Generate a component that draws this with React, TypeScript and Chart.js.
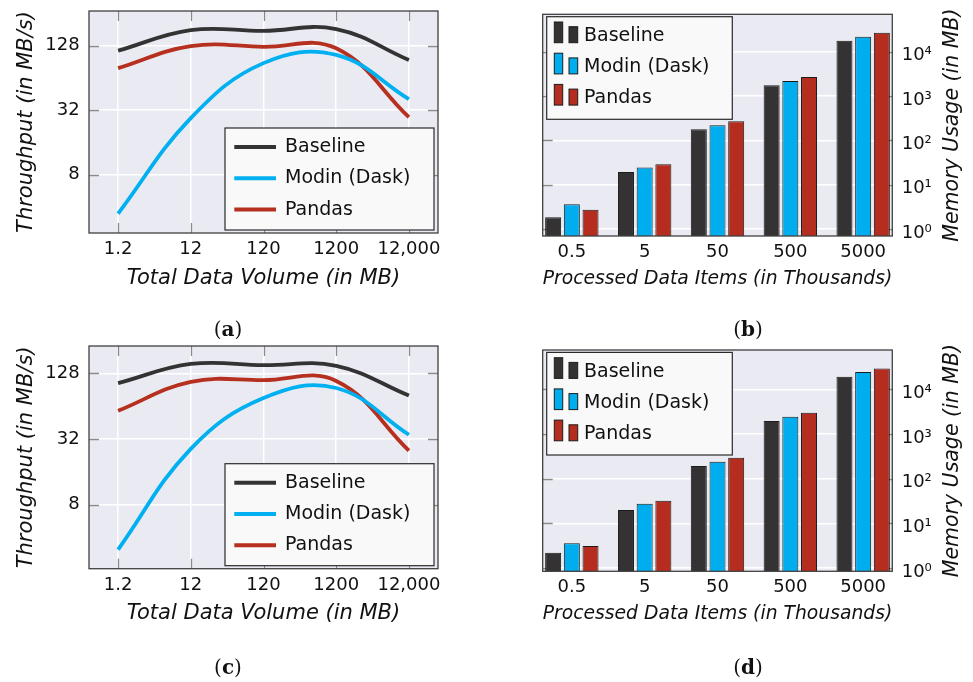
import React, { useEffect, useRef } from "react";
import { Chart, registerables } from "chart.js";

Chart.register(...registerables);
Chart.defaults.font.family = "'DejaVu Sans', sans-serif";
Chart.defaults.color = "#111";

// ---------- data ----------
const seriesNames = ["Baseline", "Modin (Dask)", "Pandas"];

const volumeValues = [1.2, 12, 120, 1200, 12000];
const volumeLabels = ["1.2", "12", "120", "1200", "12,000"];
const throughputTicks = [8, 32, 128];
const throughputTickLabels = ["8", "32", "128"];

const throughputA_baseline = [115, 179, 176, 183, 94];
const throughputA_modin = [3.46, 27, 88, 105, 40.5];
const throughputA_pandas = [79, 127, 125, 121, 27.5];

const throughputC_baseline = [104, 156, 152, 150, 80];
const throughputC_modin = [3.1, 26, 76, 94, 35];
const throughputC_pandas = [58, 107, 111, 109, 25];

const itemCategories = ["0.5", "5", "50", "500", "5000"];
const memoryTicks = [1, 10, 100, 1000, 10000];
const memoryTickLabels = ["10⁰", "10¹", "10²", "10³", "10⁴"];

const memoryB_baseline = [1.86, 19.5, 178, 1740, 17700];
const memoryB_modin = [3.66, 24.4, 219, 2180, 21800];
const memoryB_pandas = [2.72, 29.1, 270, 2690, 26800];

const memoryD_baseline = [2.2, 19.8, 192, 1950, 19000];
const memoryD_modin = [3.57, 27.5, 239, 2430, 24300];
const memoryD_pandas = [3.1, 32, 294, 2980, 29300];

// ---------- styles ----------
const lineColors = ["#333333", "#00b0f0", "#b5301f"];
const barColors = ["#343233", "#00aeef", "#b42d1e"];
const plotBg = "#eaeaf2";
const frameColor = "#404040";
const tickColor = "#8a8a8a";
const textColor = "#111";
const clear = "rgba(0,0,0,0)";

type FrameCfg = {
  xTicks: boolean;
  legend: "line" | "bar";
  rightTitle?: string;
};

function makeFramePlugin(cfg: FrameCfg) {
  return {
    id: "frame",
    beforeDraw(chart: any) {
      const { ctx, chartArea: a } = chart;
      ctx.save();
      ctx.fillStyle = plotBg;
      ctx.fillRect(a.left, a.top, a.right - a.left, a.bottom - a.top);
      ctx.restore();
    },
    beforeDatasetsDraw(chart: any) {
      const { ctx, chartArea: a } = chart;
      const L = 10;
      ctx.save();
      ctx.strokeStyle = tickColor;
      ctx.lineWidth = 1.3;
      ctx.beginPath();
      const ys = chart.scales.y;
      ys.ticks.forEach((t: any) => {
        const py = Math.round(ys.getPixelForValue(t.value)) + 0.5;
        ctx.moveTo(a.left, py);
        ctx.lineTo(a.left + L, py);
        ctx.moveTo(a.right - L, py);
        ctx.lineTo(a.right, py);
      });
      if (cfg.xTicks) {
        const xs = chart.scales.x;
        xs.ticks.forEach((t: any) => {
          const px = Math.round(xs.getPixelForValue(t.value)) + 0.5;
          ctx.moveTo(px, a.top);
          ctx.lineTo(px, a.top + L);
          ctx.moveTo(px, a.bottom - L);
          ctx.lineTo(px, a.bottom);
        });
      }
      ctx.stroke();
      ctx.restore();
    },
    afterDatasetsDraw(chart: any) {
      const { ctx, chartArea: a } = chart;
      ctx.save();
      ctx.strokeStyle = frameColor;
      ctx.lineWidth = 1.3;
      ctx.strokeRect(a.left, a.top, a.right - a.left, a.bottom - a.top);
      ctx.restore();
    },
    afterDraw(chart: any) {
      const { ctx, chartArea: a } = chart;
      const ds = chart.data.datasets;
      ctx.save();
      if (cfg.legend === "line") {
        const w = 209, h = 102;
        const lx = a.right - 4 - w;
        const ly = a.bottom - 3 - h;
        ctx.fillStyle = "#f9f9f9";
        ctx.fillRect(lx, ly, w, h);
        ctx.strokeStyle = "#2a2a2a";
        ctx.lineWidth = 1.2;
        ctx.strokeRect(lx, ly, w, h);
        ds.forEach((d: any, i: number) => {
          const ry = ly + 19 + i * 31.3;
          ctx.strokeStyle = d.borderColor;
          ctx.lineWidth = 4;
          ctx.beginPath();
          ctx.moveTo(lx + 9.3, ry);
          ctx.lineTo(lx + 51, ry);
          ctx.stroke();
          ctx.fillStyle = textColor;
          ctx.font = "19px 'DejaVu Sans'";
          ctx.textBaseline = "middle";
          ctx.textAlign = "left";
          ctx.fillText(d.label, lx + 60, ry);
        });
      } else {
        const w = 185.6, h = 102.6;
        const lx = a.left + 4;
        const ly = a.top + 2.4;
        ctx.fillStyle = "#f9f9f9";
        ctx.fillRect(lx, ly, w, h);
        ctx.strokeStyle = "#2a2a2a";
        ctx.lineWidth = 1.2;
        ctx.strokeRect(lx, ly, w, h);
        ds.forEach((d: any, i: number) => {
          const ry = ly + 19.3 + i * 31.2;
          ctx.fillStyle = d.backgroundColor;
          ctx.strokeStyle = "#1c1c1c";
          ctx.lineWidth = 1;
          ctx.fillRect(lx + 7.6, ry - 14, 8.4, 20.7);
          ctx.strokeRect(lx + 7.6, ry - 14, 8.4, 20.7);
          ctx.fillRect(lx + 22.3, ry - 9.3, 8.7, 16);
          ctx.strokeRect(lx + 22.3, ry - 9.3, 8.7, 16);
          ctx.fillStyle = textColor;
          ctx.font = "19px 'DejaVu Sans'";
          ctx.textBaseline = "middle";
          ctx.textAlign = "left";
          ctx.fillText(d.label, lx + 37.3, ry);
        });
      }
      if (cfg.rightTitle) {
        ctx.translate(453, (a.top + a.bottom) / 2);
        ctx.rotate(-Math.PI / 2);
        ctx.fillStyle = textColor;
        ctx.font = "italic 20.5px 'DejaVu Sans'";
        ctx.textAlign = "center";
        ctx.textBaseline = "middle";
        ctx.fillText(cfg.rightTitle, 0, 0);
      }
      ctx.restore();
    },
  };
}

type Geo = { top: number; xHeight: number };

function lineConfig(
  series: number[][],
  yMin: number,
  yMax: number,
  geo: Geo
): any {
  return {
    type: "line",
    data: {
      datasets: series.map((vals, s) => ({
        label: seriesNames[s],
        data: vals.map((v, i) => ({ x: volumeValues[i], y: v })),
        borderColor: lineColors[s],
        backgroundColor: lineColors[s],
        borderWidth: 3.8,
        pointRadius: 0,
        tension: 0.4,
        fill: false,
      })),
    },
    options: {
      animation: false,
      responsive: false,
      devicePixelRatio: 1,
      layout: { padding: { left: 0, top: geo.top, right: 12, bottom: 0 } },
      plugins: { legend: { display: false }, tooltip: { enabled: false } },
      scales: {
        x: {
          type: "logarithmic",
          min: 0.4777,
          max: 30144,
          afterBuildTicks: (s: any) => {
            s.ticks = volumeValues.map((v) => ({ value: v }));
          },
          afterFit: (s: any) => {
            s.height = geo.xHeight;
          },
          ticks: {
            autoSkip: false,
            maxRotation: 0,
            padding: 6,
            color: textColor,
            font: { size: 18 },
            callback: (_v: any, i: number) => volumeLabels[i],
          },
          grid: { color: "#ffffff", lineWidth: 1.5, drawTicks: false },
          border: { display: false },
          title: {
            display: true,
            text: "Total Data Volume (in MB)",
            color: textColor,
            font: { size: 21, style: "italic" },
            padding: { top: 0, bottom: 8.7 },
          },
        },
        y: {
          type: "logarithmic",
          min: yMin,
          max: yMax,
          afterBuildTicks: (s: any) => {
            s.ticks = throughputTicks.map((v) => ({ value: v }));
          },
          afterFit: (s: any) => {
            s.width = 89;
          },
          ticks: {
            autoSkip: false,
            padding: 0,
            color: textColor,
            font: { size: 18 },
            callback: (_v: any, i: number) => throughputTickLabels[i],
          },
          grid: { color: "#ffffff", lineWidth: 1.5, drawTicks: true, tickLength: 9.3, tickColor: clear },
          border: { display: false },
          title: {
            display: true,
            text: "Throughput (in MB/s)",
            color: textColor,
            font: { size: 21, style: "italic" },
            padding: { top: 13.8, bottom: 0 },
          },
        },
      },
    },
    plugins: [makeFramePlugin({ xTicks: true, legend: "line" })],
  };
}

function barConfig(
  series: number[][],
  yMin: number,
  yMax: number,
  geo: Geo
): any {
  return {
    type: "bar",
    data: {
      datasets: series.map((vals, s) => ({
        label: seriesNames[s],
        data: vals.map((v, i) => ({ x: i, y: v })),
        backgroundColor: barColors[s],
        borderColor: "#1c1c1c",
        borderWidth: 1,
        categoryPercentage: 0.77,
        barPercentage: 0.856,
      })),
    },
    options: {
      animation: false,
      responsive: false,
      devicePixelRatio: 1,
      layout: { padding: { left: 42.7, top: geo.top, right: 0, bottom: 0 } },
      plugins: { legend: { display: false }, tooltip: { enabled: false } },
      scales: {
        x: {
          type: "linear",
          offset: false,
          min: -0.4,
          max: 4.4,
          afterBuildTicks: (s: any) => {
            s.ticks = itemCategories.map((_c, i) => ({ value: i }));
          },
          afterFit: (s: any) => {
            s.height = geo.xHeight;
          },
          ticks: {
            autoSkip: false,
            maxRotation: 0,
            padding: 5.5,
            color: textColor,
            font: { size: 18 },
            callback: (_v: any, i: number) => itemCategories[i],
          },
          grid: { display: false, drawTicks: false, offset: false },
          border: { display: false },
          title: {
            display: true,
            text: "Processed Data Items (in Thousands)",
            color: textColor,
            font: { size: 20, style: "italic" },
            padding: { top: 0, bottom: 9.3 },
          },
        },
        y: {
          type: "logarithmic",
          position: "right",
          min: yMin,
          max: yMax,
          afterBuildTicks: (s: any) => {
            s.ticks = memoryTicks.map((v) => ({ value: v }));
          },
          afterFit: (s: any) => {
            s.width = 80.7;
          },
          ticks: {
            autoSkip: false,
            padding: 0,
            labelOffset: 4,
            color: textColor,
            font: { size: 18 },
            callback: (_v: any, i: number) => memoryTickLabels[i],
          },
          grid: { color: "#ffffff", lineWidth: 1.5, drawTicks: true, tickLength: 9.4, tickColor: clear },
          border: { display: false },
        },
      },
    },
    plugins: [
      makeFramePlugin({ xTicks: false, legend: "bar", rightTitle: "Memory Usage (in MB)" }),
    ],
  };
}

function ChartCanvas(props: { config: () => any; left: number; top: number; width: number; height: number }) {
  const ref = useRef<HTMLCanvasElement | null>(null);
  useEffect(() => {
    if (!ref.current) return;
    const chart = new Chart(ref.current, props.config());
    return () => chart.destroy();
  }, []);
  return (
    <canvas
      ref={ref}
      width={props.width}
      height={props.height}
      style={{ position: "absolute", left: props.left, top: props.top, width: props.width, height: props.height }}
    />
  );
}

function Caption(props: { letter: string; x: number; y: number }) {
  return (
    <div
      style={{
        position: "absolute",
        left: props.x,
        top: props.y,
        transform: "translate(-50%, -50%)",
        fontFamily: "'DejaVu Serif', serif",
        fontSize: 20,
        color: "#111",
        whiteSpace: "nowrap",
        lineHeight: 1,
      }}
    >
      (<b>{props.letter}</b>)
    </div>
  );
}

export default function App() {
  return (
    <div style={{ position: "absolute", left: 0, top: 0, width: 973, height: 682, background: "#fff", overflow: "hidden" }}>
      <ChartCanvas
        left={0}
        top={0}
        width={450}
        height={300}
        config={() =>
          lineConfig([throughputA_baseline, throughputA_modin, throughputA_pandas], 2.28, 270, { top: 11, xHeight: 67 })
        }
      />
      <ChartCanvas
        left={500}
        top={0}
        width={473}
        height={300}
        config={() =>
          barConfig([memoryB_baseline, memoryB_modin, memoryB_pandas], 0.706, 69500, { top: 14.3, xHeight: 64 })
        }
      />
      <ChartCanvas
        left={0}
        top={335}
        width={450}
        height={300}
        config={() =>
          lineConfig([throughputC_baseline, throughputC_modin, throughputC_pandas], 2.07, 228, { top: 11, xHeight: 66.3 })
        }
      />
      <ChartCanvas
        left={500}
        top={335}
        width={473}
        height={300}
        config={() =>
          barConfig([memoryD_baseline, memoryD_modin, memoryD_pandas], 0.844, 75900, { top: 15, xHeight: 63.7 })
        }
      />
      <Caption letter="a" x={228} y={329} />
      <Caption letter="b" x={748} y={329} />
      <Caption letter="c" x={228} y={667} />
      <Caption letter="d" x={748} y={667} />
    </div>
  );
}
